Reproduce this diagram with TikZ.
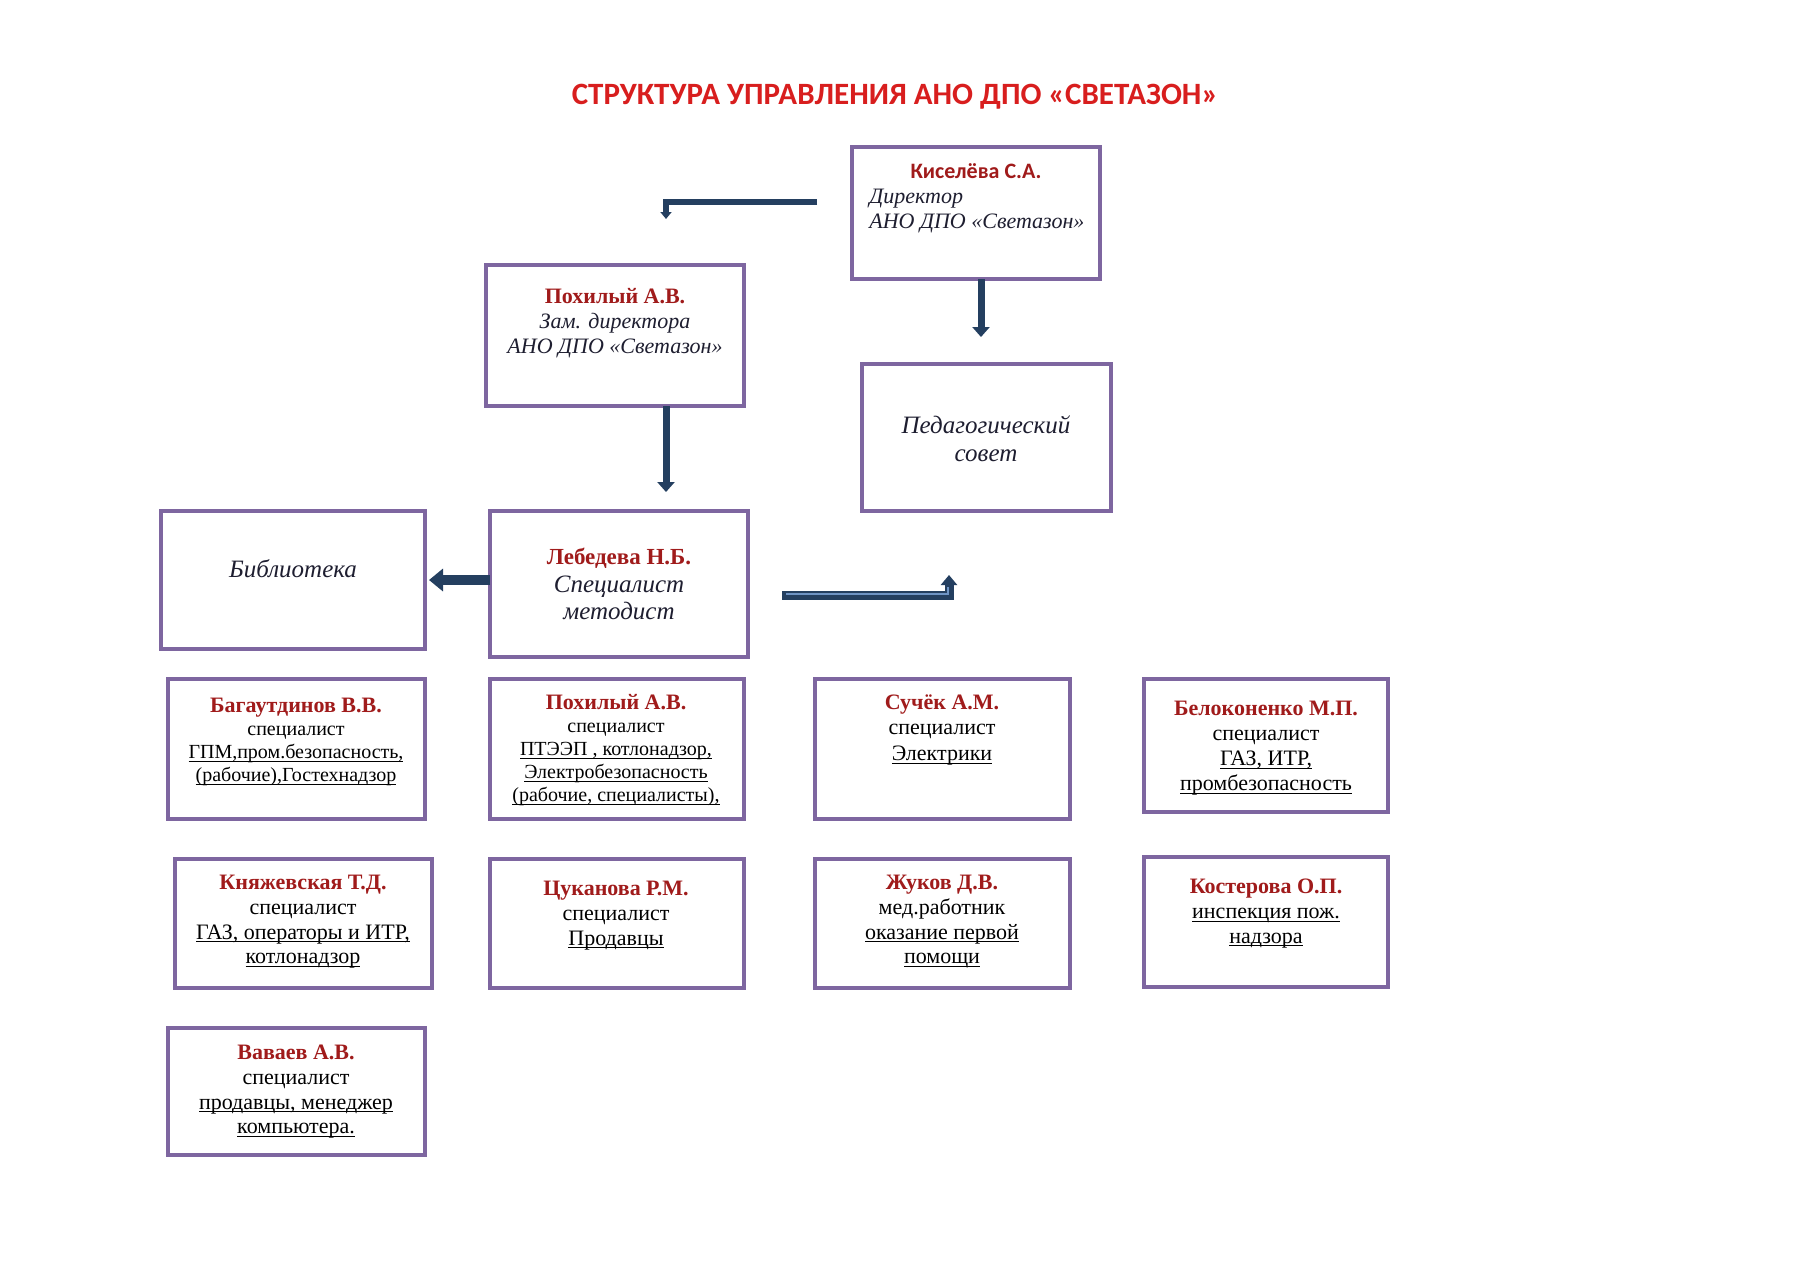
\documentclass[tikz,border=0pt]{standalone}
\usepackage{fontspec}
\setmainfont{Liberation Serif}
\newfontfamily\calibri{Carlito}
\usetikzlibrary{arrows.meta}
\definecolor{boxpurple}{HTML}{7E66A0}
\definecolor{namered}{HTML}{A01B1B}
\definecolor{titlered}{HTML}{D81E1E}
\definecolor{arrowblue}{HTML}{243F60}
\definecolor{stripeblue}{HTML}{6F94C4}
\definecolor{roleink}{HTML}{1E1E30}
\newcommand\nm[1]{\textcolor{namered}{\bfseries #1}}
\newcommand\rl[1]{\textcolor{roleink}{\itshape #1}}
\newcommand\myul[1]{\underline{\smash{#1}}}
\newcommand\fl{\rule{0pt}{10pt}}
\newcommand\card[5]{\node[card, minimum width={(#4-#2)*0.5pt}, minimum height={(#5-#3)*0.5pt}] (#1) at ({(#2+#4)/2},{(#3+#5)/2}) {};}
\begin{document}
\begin{tikzpicture}[x=0.5pt,y=-0.5pt,
  card/.style={draw=boxpurple, line width=2pt, fill=white, inner sep=0pt, outer sep=0pt},
  txt/.style={align=center, inner sep=0pt, anchor=north},
  s10/.style={font=\fontsize{10}{11.5}\selectfont},
  link/.style={draw=arrowblue, line width=3.5pt, -{Triangle[width=8.5pt,length=5pt]}},
  thick link/.style={draw=arrowblue, line width=5pt, -{Triangle[width=11pt,length=7pt]}}
]
\useasboundingbox[fill=white] (0,0) rectangle (1820,1286);

% title
\node[font=\calibri\bfseries\fontsize{15.5}{18}\selectfont, text=titlered, inner sep=0pt] (title) at (895,97) {СТРУКТУРА УПРАВЛЕНИЯ АНО ДПО «СВЕТАЗОН»};

% boxes
\card{dir}{852}{147}{1100}{279}
\card{zam}{486}{265}{744}{406}
\card{ped}{862}{364}{1111}{511}
\card{bib}{161}{511}{425}{649}
\card{leb}{490}{511}{748}{657}
\card{bag}{168}{679}{425}{819}
\card{pokh}{490}{679}{744}{819}
\card{such}{815}{679}{1070}{819}
\card{belo}{1144}{679}{1388}{812}
\card{knya}{175}{859}{432}{988}
\card{tsuk}{490}{859}{744}{988}
\card{zhuk}{815}{859}{1070}{988}
\card{kost}{1144}{857}{1388}{987}
\card{vava}{168}{1028}{425}{1155}

% texts (north anchor = 20px above first baseline)
\node[inner sep=0pt, anchor=base, font=\calibri\bfseries\fontsize{11}{12.5}\selectfont, text=namered] (dir-n) at (976,178) {Киселёва С.А.};
\node[inner sep=0pt, anchor=north west, align=left, font=\fontsize{11}{12.5}\selectfont] (dir-t) at (869,183) {\fl\rl{Директор}\\\rl{АНО ДПО «Светазон»}};

\node[txt, font=\fontsize{11}{12.5}\selectfont] (zam-t) at (615,283) {\fl\nm{Похилый А.В.}\\\rl{Зам. директора}\\\rl{АНО ДПО «Светазон»}};

\node[txt, font=\fontsize{12.5}{14}\selectfont] (ped-t) at (986,413) {\fl\rl{Педагогический}\\\rl{совет}};

\node[txt, font=\fontsize{12.5}{14}\selectfont] (bib-t) at (293,557) {\fl\rl{Библиотека}};

\node[txt, font=\fontsize{12.5}{13.8}\selectfont] (leb-t) at (619,544) {\fl{\fontsize{11.5}{13.8}\selectfont\nm{Лебедева Н.Б.}}\\\rl{Специалист}\\\rl{методист}};

\node[txt, s10] (bag-t) at (296,692) {\fl{\fontsize{11}{11.5}\selectfont\nm{Багаутдинов В.В.}}\\специалист\\\myul{ГПМ,пром.безопасность,}\\\myul{(рабочие),Гостехнадзор}};

\node[txt, s10] (pokh-t) at (616,689) {\fl{\fontsize{11}{11.5}\selectfont\nm{Похилый А.В.}}\\специалист\\\myul{ПТЭЭП , котлонадзор,}\\\myul{Электробезопасность}\\\myul{(рабочие, специалисты),}};

\node[txt, font=\fontsize{11}{12.7}\selectfont] (such-t) at (942,689) {\fl\nm{Сучёк А.М.}\\специалист\\\myul{Электрики}};

\node[txt, font=\fontsize{11}{12.5}\selectfont] (belo-t) at (1266,695) {\fl\nm{Белоконенко М.П.}\\специалист\\\myul{ГАЗ, ИТР,}\\\myul{промбезопасность}};

\node[txt, font=\fontsize{11}{12.4}\selectfont] (knya-t) at (303,869) {\fl\nm{Княжевская Т.Д.}\\специалист\\\myul{ГАЗ, операторы и ИТР,}\\\myul{котлонадзор}};

\node[txt, font=\fontsize{11}{12.4}\selectfont] (tsuk-t) at (616,875) {\fl\nm{Цуканова Р.М.}\\специалист\\\myul{Продавцы}};

\node[txt, font=\fontsize{11}{12.4}\selectfont] (zhuk-t) at (942,869) {\fl\nm{Жуков Д.В.}\\мед.работник\\\myul{оказание первой}\\\myul{помощи}};

\node[txt, font=\fontsize{11}{12.4}\selectfont] (kost-t) at (1266,873) {\fl\nm{Костерова О.П.}\\\myul{инспекция пож.}\\\myul{надзора}};

\node[txt, font=\fontsize{11}{12.4}\selectfont] (vava-t) at (296,1039) {\fl\nm{Ваваев А.В.}\\специалист\\\myul{продавцы, менеджер}\\\myul{компьютера.}};

% connectors
\coordinate (dl1) at (817,202);
\coordinate (dl2) at (666,219);
\draw[draw=arrowblue, line width=3pt, -{Triangle[width=5.5pt,length=3.5pt]}] (dl1) -| (dl2);

\coordinate (dd) at (981,337);
\draw[link] (dir.south -| dd) -- (dd);

\coordinate (zd) at (666,492);
\draw[link] (zam.south -| zd) -- (zd);

\coordinate (lb) at (429,580);
\draw[thick link] (leb.west |- lb) -- (lb);

\coordinate (lr1) at (782,595);
\coordinate (lr2) at (949,575);
\draw[draw=arrowblue, line width=4.5pt, -{Triangle[width=8pt,length=5pt]}] (lr1) -| (lr2);
\draw[draw=stripeblue, line width=0.8pt] ([shift={(4,-1)}]lr1) -| ([shift={(-1,12)}]lr2);
\end{tikzpicture}
\end{document}
